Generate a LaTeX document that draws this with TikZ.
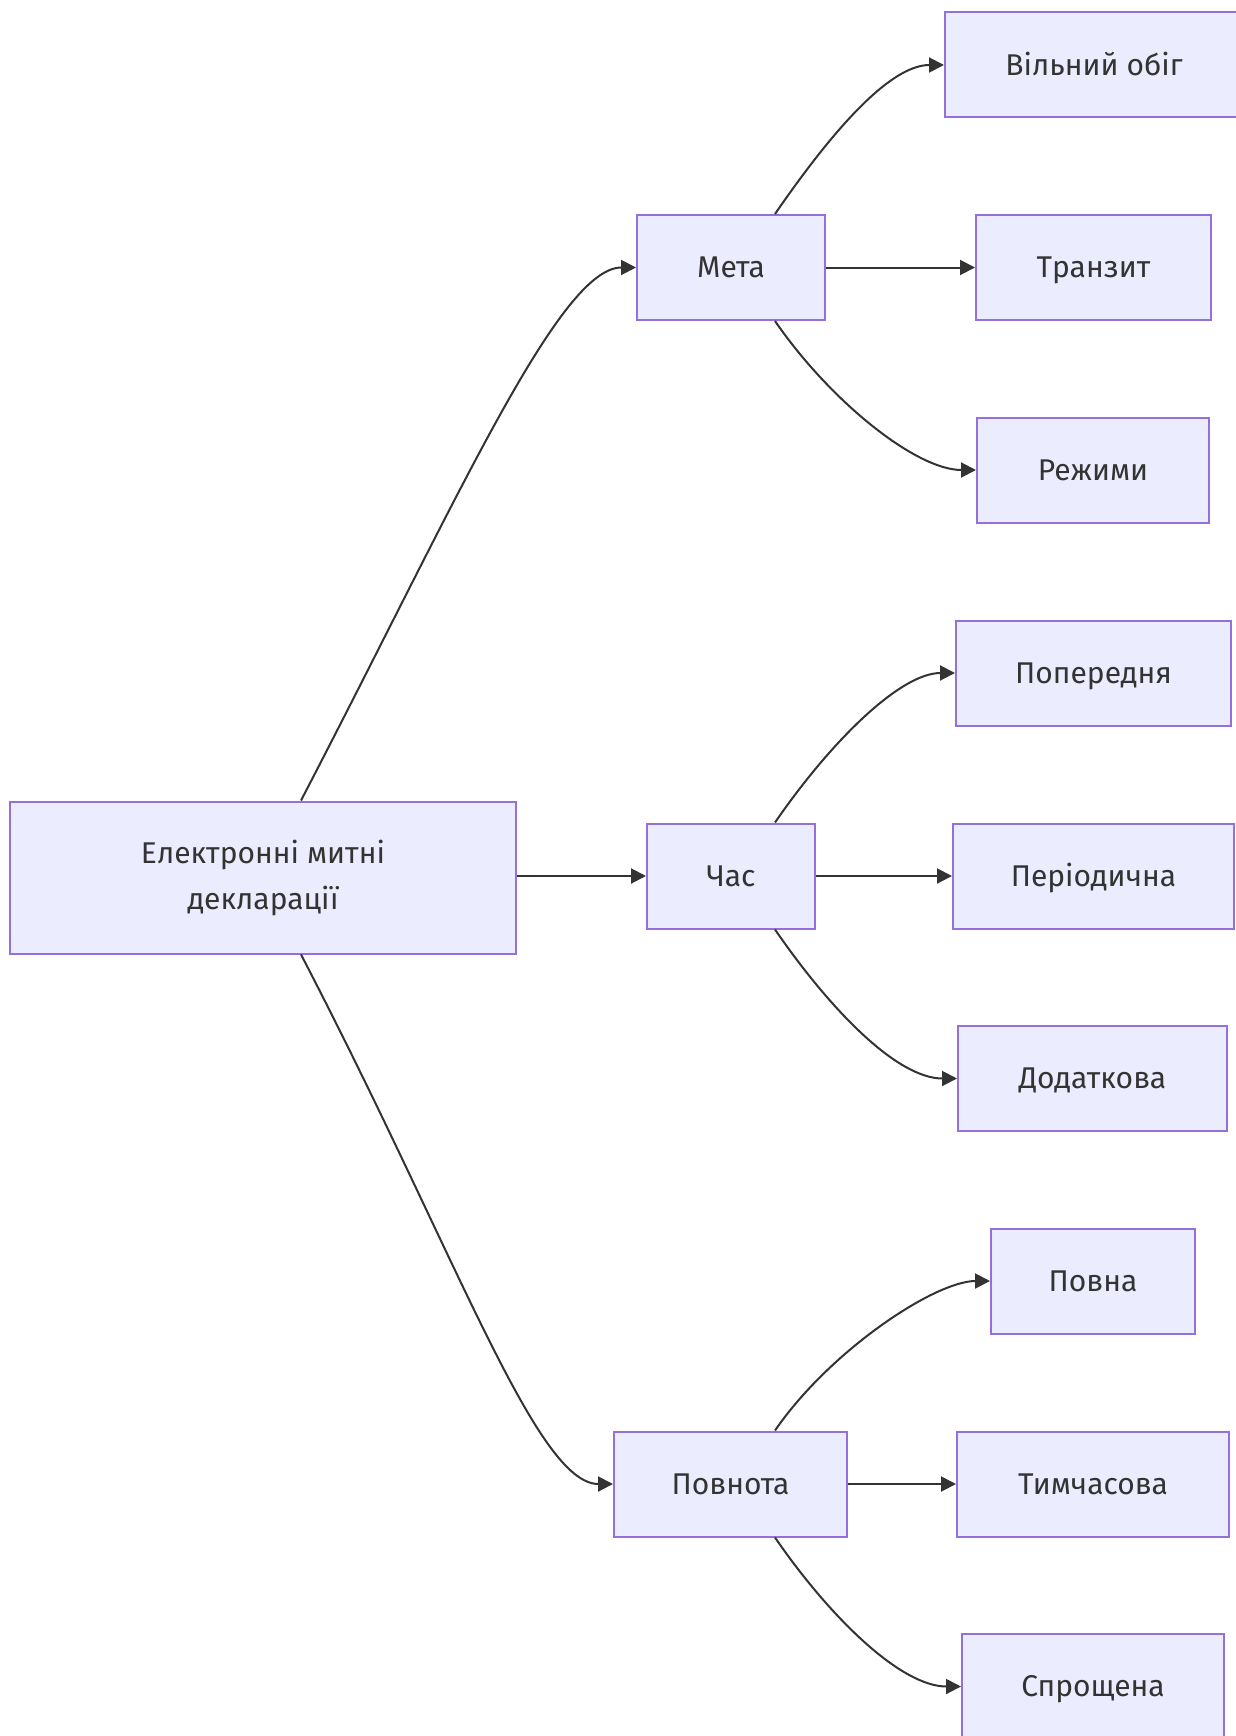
\documentclass[tikz,border=0pt]{standalone}
\usepackage{fontspec}
\setmainfont{Fira Sans}
\usetikzlibrary{arrows.meta,calc}
\definecolor{boxfill}{HTML}{ECECFF}
\definecolor{boxline}{HTML}{9370DB}
\definecolor{ink}{HTML}{333333}
\tikzset{
  box/.style={draw=boxline, fill=boxfill, line width=2pt, inner sep=0pt,
    text=ink, font=\fontsize{30}{46}\selectfont, align=center},
  onebox/.style={box, text height=20.7pt, text depth=0pt, minimum height=105pt},
  conn/.style={draw=ink, line width=2pt, -{Triangle[length=15pt,width=15pt]}}
}
\begin{document}
\begin{tikzpicture}[x=1pt,y=-1pt]
\useasboundingbox (0,0) rectangle (1235,1736);
\node[box, minimum width=506pt, minimum height=152pt] (root) at (263,877.5) {Електронні митні\\декларації};
\node[onebox, minimum width=188pt] (meta) at (731,267.5) {Мета};
\node[onebox, minimum width=168pt] (chas) at (731,876) {Час};
\node[onebox, minimum width=233pt] (povnota) at (730.5,1484) {Повнота};
\node[onebox, minimum width=298pt] (vilnyi) at (1094,65) {Вільний обіг};
\node[onebox, minimum width=235pt] (tranzyt) at (1093.5,267.5) {Транзит};
\node[onebox, minimum width=232pt] (rezhymy) at (1093,470) {Режими};
\node[onebox, minimum width=275pt] (poper) at (1093.5,673) {Попередня};
\node[onebox, minimum width=281pt] (period) at (1093.5,876) {Періодична};
\node[onebox, minimum width=269pt] (dodat) at (1092.5,1078.5) {Додаткова};
\node[onebox, minimum width=204pt] (povna) at (1093,1281) {Повна};
\node[onebox, minimum width=272pt] (tymch) at (1093,1484) {Тимчасова};
\node[onebox, minimum width=262pt] (sprosh) at (1093,1686.5) {Спрощена};
% root edges
\draw[conn] ($(root.north)+(38,0)$) .. controls +(156,-300) and +(-77,0) .. (meta.west);
\draw[conn] (root.east |- chas.west) -- (chas.west);
\draw[conn] ($(root.south)+(38,0)$) .. controls +(156,300) and +(-77,0) .. (povnota.west);
% Meta
\draw[conn] ($(meta.north)+(44,0)$) .. controls +(55,-80) and +(-55,0) .. (vilnyi.west);
\draw[conn] (meta.east) -- (tranzyt.west);
\draw[conn] ($(meta.south)+(44,0)$) .. controls +(55,80) and +(-60,0) .. (rezhymy.west);
% Chas
\draw[conn] ($(chas.north)+(44,0)$) .. controls +(55,-80) and +(-55,0) .. (poper.west);
\draw[conn] (chas.east) -- (period.west);
\draw[conn] ($(chas.south)+(44,0)$) .. controls +(55,80) and +(-60,0) .. (dodat.west);
% Povnota
\draw[conn] ($(povnota.north)+(44.5,0)$) .. controls +(55,-80) and +(-55,0) .. (povna.west);
\draw[conn] (povnota.east) -- (tymch.west);
\draw[conn] ($(povnota.south)+(44.5,0)$) .. controls +(55,80) and +(-60,0) .. (sprosh.west);
\end{tikzpicture}
\end{document}
